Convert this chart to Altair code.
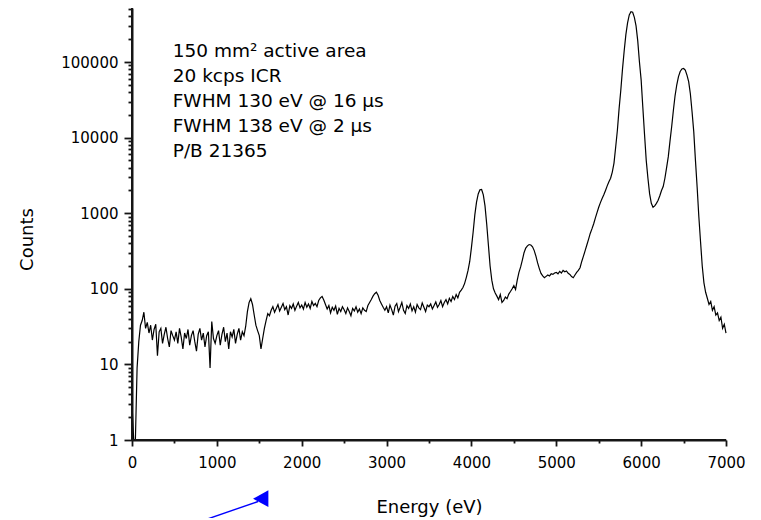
import altair as alt
import pandas as pd

# ---- spectrum (counts read every 20 eV from 0 to 7000 eV) ----
c0000 = [3, 1, 1, 9, 20, 33, 38, 49, 30, 36, 26, 33, 21, 29, 34, 13, 27, 30, 19, 25, 31, 22, 17, 28, 24]
c0500 = [21, 27, 19, 30, 23, 16, 26, 22, 29, 18, 24, 28, 20, 15, 25, 30, 21, 26, 17, 24, 27, 9, 37, 22, 19]
c1000 = [24, 28, 18, 25, 31, 20, 26, 16, 27, 23, 29, 19, 25, 30, 21, 27, 24, 32, 50, 66, 74, 62, 45, 33, 28]
c1500 = [24, 16, 22, 30, 38, 47, 44, 52, 58, 49, 55, 62, 51, 57, 64, 53, 58, 45, 60, 55, 63, 52, 59, 66, 56]
c2000 = [61, 54, 66, 57, 63, 55, 68, 60, 64, 58, 70, 76, 79, 71, 62, 54, 60, 48, 57, 52, 59, 46, 55, 50, 58]
c2500 = [53, 47, 56, 50, 44, 55, 51, 58, 49, 54, 47, 56, 52, 50, 60, 66, 72, 80, 86, 90, 82, 70, 63, 57, 52]
c3000 = [58, 48, 61, 53, 45, 59, 64, 50, 57, 66, 52, 47, 60, 55, 63, 51, 58, 49, 62, 56, 53, 65, 57, 50, 61]
c3500 = [58, 63, 54, 60, 67, 57, 62, 70, 58, 66, 72, 63, 75, 68, 79, 72, 84, 76, 90, 96, 104, 118, 142, 175, 230]
c4000 = [350, 560, 950, 1400, 1800, 2040, 2060, 1750, 1250, 720, 380, 200, 130, 100, 88, 80, 72, 84, 66, 70,
         78, 74, 85, 92, 100]
c4500 = [110, 98, 130, 165, 195, 240, 300, 345, 370, 385, 380, 360, 320, 270, 220, 185, 160, 148, 140, 146,
         152, 148, 158, 155, 162]
c5000 = [165, 158, 170, 162, 175, 168, 172, 160, 155, 145, 140, 152, 165, 175, 190, 230, 270, 320, 380, 450,
         540, 620, 720, 860, 1020]
c5500 = [1200, 1380, 1560, 1750, 2000, 2300, 2600, 2900, 3500, 4600, 7500, 12500, 24000, 42000, 80000,
         140000, 230000, 330000, 420000, 462000, 455000, 390000, 300000, 190000, 100000]
c6000 = [58000, 25000, 11000, 5000, 2900, 1800, 1350, 1200, 1250, 1350, 1480, 1700, 2000, 2250, 2900, 4000,
         5600, 9000, 14000, 23000, 36000, 50000, 64000, 75000, 81000]
c6500 = [82000, 78000, 67000, 55000, 38000, 22000, 12000, 5000, 2200, 900, 420, 200, 120, 90, 75, 62, 68, 52,
         58, 45, 48, 38, 42, 30, 34, 26]

counts = c0000 + c0500 + c1000 + c1500 + c2000 + c2500 + c3000 + c3500 + c4000 + c4500 + c5000 + c5500 + c6000 + c6500
energy = list(range(0, 7001, 20))

# ---- axes ticks ----
x_major = [0, 1000, 2000, 3000, 4000, 5000, 6000, 7000]
x_minor = [500, 1500, 2500, 3500, 4500, 5500, 6500]
y_major = [1, 10, 100, 1000, 10000, 100000]
y_minor = [2, 3, 4, 5, 6, 7, 8, 9,
           20, 30, 40, 50, 60, 70, 80, 90,
           200, 300, 400, 500, 600, 700, 800, 900,
           2000, 3000, 4000, 5000, 6000, 7000, 8000, 9000,
           20000, 30000, 40000, 50000, 60000, 70000, 80000, 90000,
           200000, 300000, 400000, 500000]

# ---- annotation ----
ann_lines = ["150 mm\u00b2 active area", "20 kcps ICR", "FWHM 130 eV @ 16 \u00b5s",
             "FWHM 138 eV @ 2 \u00b5s", "P/B 21365"]
ann_x = [480, 480, 480, 480, 480]
ann_y = [141200, 65300, 30500, 14220, 6750]

arrow_x = [684, 1485]
arrow_y = [0.0751, 0.1536]
head_x = [1517]
head_y = [0.1675]

X_MIN, X_MAX = 0, 7000
Y_MIN, Y_MAX = 1, 518000
AXIS_COLOR = "#151515"

df = pd.DataFrame({"energy": energy, "counts": counts})
ann_df = pd.DataFrame({"x": ann_x, "y": ann_y, "text": ann_lines})
arrow_df = pd.DataFrame({"x": arrow_x, "y": arrow_y})
head_df = pd.DataFrame({"x": head_x, "y": head_y})

x_scale = alt.Scale(domain=[X_MIN, X_MAX], nice=False, zero=False)
y_scale = alt.Scale(type="log", domain=[Y_MIN, Y_MAX], nice=False)

x_major_test = "indexof(" + str(x_major) + ", datum.value) >= 0"
y_major_test = "indexof(" + str(y_major) + ", datum.value) >= 0"

x_axis = alt.Axis(
    values=sorted(x_major + x_minor), title="Energy (eV)", format="d", orient="bottom",
    labelExpr=x_major_test + " ? datum.label : ''",
    tickSize={"condition": {"test": x_major_test, "value": 6}, "value": 3},
    labelPadding=9, labelFlush=False, titleY=72, titleBaseline="alphabetic",
    domainColor=AXIS_COLOR, domainWidth=2, tickColor=AXIS_COLOR, tickWidth=1.8,
)
y_axis = alt.Axis(
    values=sorted(y_major + y_minor), title="Counts", format="d", orient="left",
    labelExpr=y_major_test + " ? datum.label : ''",
    tickSize={"condition": {"test": y_major_test, "value": 8}, "value": 4},
    labelPadding=6, labelFlush=False, titleX=-100, titleY=231, titleBaseline="alphabetic",
    domainColor=AXIS_COLOR, domainWidth=2, tickColor=AXIS_COLOR, tickWidth=1.8,
)

line = alt.Chart(df).mark_line(color="black", strokeWidth=1.2).encode(
    x=alt.X("energy:Q", scale=x_scale, axis=x_axis),
    y=alt.Y("counts:Q", scale=y_scale, axis=y_axis),
)

# axis lines drawn through the scales as well, so they are always visible
x_axis_line = alt.Chart(df).mark_rule(color=AXIS_COLOR, strokeWidth=2).encode(
    x=alt.datum(X_MIN, scale=x_scale),
    x2=alt.datum(X_MAX),
    y=alt.datum(Y_MIN, scale=y_scale),
)
y_axis_line = alt.Chart(df).mark_rule(color=AXIS_COLOR, strokeWidth=2).encode(
    x=alt.datum(X_MIN, scale=x_scale),
    y=alt.datum(Y_MIN, scale=y_scale),
    y2=alt.datum(Y_MAX),
)

text = alt.Chart(ann_df).mark_text(align="left", baseline="middle", font="DejaVu Sans",
                                   fontSize=18.5, color="black").encode(
    x=alt.X("x:Q", scale=x_scale),
    y=alt.Y("y:Q", scale=y_scale),
    text="text:N",
)

arrow = alt.Chart(arrow_df).mark_line(color="#0000ff", strokeWidth=1.4).encode(
    x=alt.X("x:Q", scale=x_scale),
    y=alt.Y("y:Q", scale=y_scale),
)

head = alt.Chart(head_df).mark_point(shape="M -1 0 L 1 -1.1 L 1 1.1 Z", size=234, filled=True,
                                     color="#0000ff", opacity=1).encode(
    x=alt.X("x:Q", scale=x_scale),
    y=alt.Y("y:Q", scale=y_scale),
)

chart = (
    alt.layer(line, x_axis_line, y_axis_line, text, arrow, head)
    .properties(width=594, height=432,
                padding={"left": 124, "top": 0, "right": 20, "bottom": 78},
                autosize=alt.AutoSizeParams(type="none"))
    .configure_view(stroke=None)
    .configure_axis(grid=False, labelFont="DejaVu Sans", labelFontSize=15, labelColor="black",
                    titleFont="DejaVu Sans", titleFontSize=18, titleFontWeight="normal",
                    titleColor="black")
)

chart.save("out.html", embed_options={"renderer": "svg", "actions": False})
